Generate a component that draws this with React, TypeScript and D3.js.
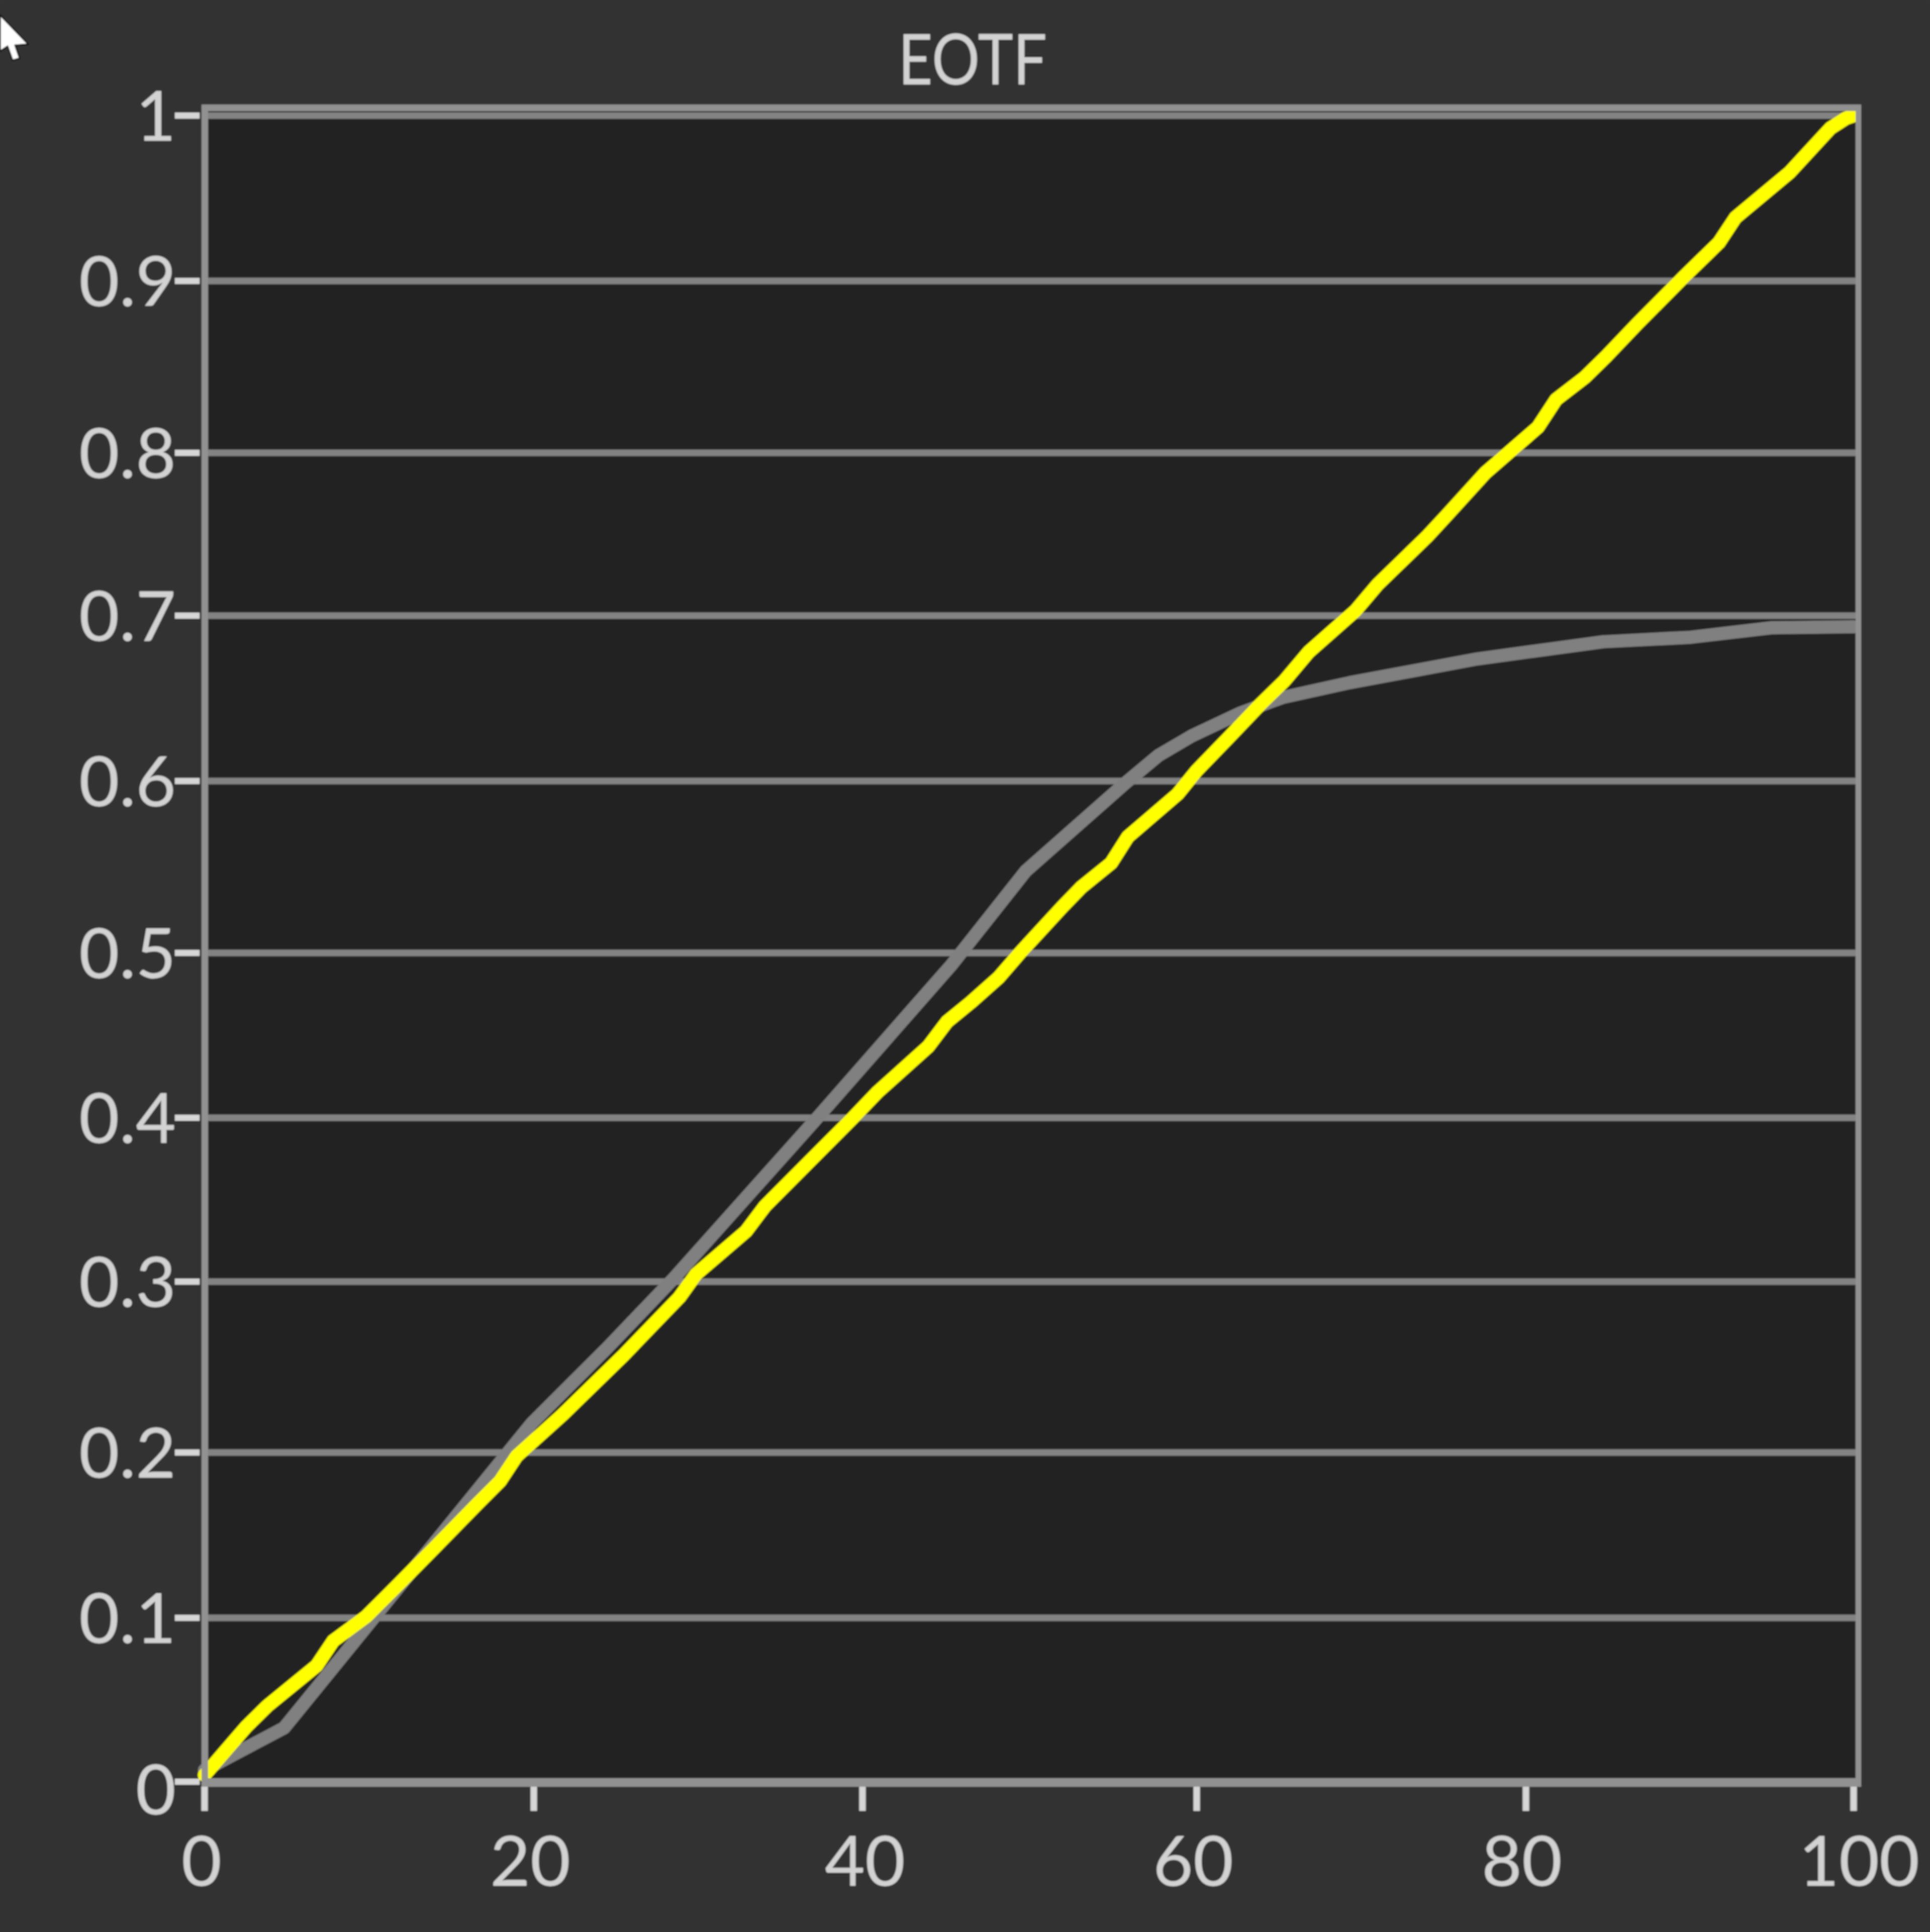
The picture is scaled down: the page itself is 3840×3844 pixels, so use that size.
import React from "react";
import * as d3 from "d3";

const chartTitle = "EOTF";
const xTicks = [0, 20, 40, 60, 80, 100];
const yTicks = [0, 0.1, 0.2, 0.3, 0.4, 0.5, 0.6, 0.7, 0.8, 0.9, 1];
const xTickLabels = ["0", "20", "40", "60", "80", "100"];
const yTickLabels = ["0", "0.1", "0.2", "0.3", "0.4", "0.5", "0.6", "0.7", "0.8", "0.9", "1"];

const yellowX = [0, 2.53, 3.81, 6.8, 7.8, 9.81, 11.83, 13.99, 16.52, 17.92, 18.93, 21.7, 25.36, 28.8, 29.81, 32.83, 33.98, 39.32, 40.84, 43.89, 45.02, 46.48, 48.16, 49.47, 52, 53.15, 54.98, 55.99, 59.01, 60.17, 62.18, 64.04, 65.47, 66.96, 69.8, 71.14, 74.15, 75.31, 77.66, 80.86, 81.96, 83.69, 85.03, 86.86, 89.73, 91.83, 92.84, 96.12, 98.6, 99.55, 100];
const yellowY = [0.004, 0.033, 0.0455, 0.0697, 0.0845, 0.0992, 0.1192, 0.1409, 0.1665, 0.1804, 0.1955, 0.2202, 0.2555, 0.2908, 0.3047, 0.3303, 0.3454, 0.3985, 0.4142, 0.4413, 0.4561, 0.4679, 0.4827, 0.4977, 0.5249, 0.5367, 0.5514, 0.5671, 0.5928, 0.6069, 0.6275, 0.6468, 0.6606, 0.6781, 0.7029, 0.7186, 0.7475, 0.7599, 0.7855, 0.813, 0.8296, 0.8428, 0.8558, 0.8748, 0.9035, 0.9237, 0.9388, 0.9659, 0.9925, 0.9985, 1];

const grayX = [0, 4.82, 10.48, 19.84, 24.47, 28.47, 37, 42.85, 45.29, 49.8, 55.84, 57.85, 59.83, 62.85, 65.35, 69.46, 77.17, 84.82, 90.13, 95.03, 100];
const grayY = [0.007, 0.0323, 0.1011, 0.2151, 0.2609, 0.3023, 0.3967, 0.4627, 0.4902, 0.5466, 0.5994, 0.616, 0.6275, 0.6416, 0.6507, 0.6597, 0.6739, 0.6842, 0.6869, 0.6926, 0.6932];

// The source was a low-resolution screenshot, so its ticks sit on an uneven pixel grid.
const xTickPx = [407, 1062, 1716, 2381, 3036, 3688];
const yTickPx = [3545, 3219, 2890, 2550, 2224, 1896, 1554, 1225, 901, 559, 230];
const xLabelPx = [401, 1055, 1721, 2374, 3028, 3699];
const yLabelPx = [3560, 3219, 2890, 2550, 2224, 1896, 1554, 1225, 901, 559, 230];

const WIDTH = 3840;
const HEIGHT = 3844;
const frame = { left: 401, right: 3703, top: 208, bottom: 3555, lw: 13, rw: 11, tw: 13, bw: 17 };

const xScale = d3.scaleLinear().domain([0, 100]).range([407, 3688]);
const yScale = d3.scaleLinear().domain([0, 1]).range([3545, 230]);
const xTickScale = d3.scaleLinear().domain(xTicks).range(xTickPx);
const yTickScale = d3.scaleLinear().domain(yTicks).range(yTickPx);
const xLabelScale = d3.scaleLinear().domain(xTicks).range(xLabelPx);
const yLabelScale = d3.scaleLinear().domain(yTicks).range(yLabelPx);

const lineGen = d3.line<[number, number]>().x((d) => xScale(d[0])).y((d) => yScale(d[1]));
const zip = (xs: number[], ys: number[]) => xs.map((x, i) => [x, ys[i]] as [number, number]);

const FONT = "Lato, 'Open Sans', sans-serif";
const TEXT = "#d2d2d2";
const FRAME = "#919191";
const GRID = "#838383";

export default function App() {
  return (
    <svg
      width={WIDTH}
      height={HEIGHT}
      viewBox={`0 0 ${WIDTH} ${HEIGHT}`}
      style={{ position: "absolute", left: 0, top: 0, display: "block" }}
    >
      <defs>
        <clipPath id="plotClip">
          <rect x={380} y={frame.top} width={frame.right - frame.rw - 380} height={frame.bottom - frame.top} />
        </clipPath>
        <filter id="soft" x="0" y="0" width="100%" height="100%" filterUnits="objectBoundingBox">
          <feGaussianBlur stdDeviation="1.6" />
        </filter>
      </defs>
      <rect x={0} y={0} width={WIDTH} height={HEIGHT} fill="#333333" />
      <g filter="url(#soft)">
        <rect x={0} y={0} width={WIDTH} height={HEIGHT} fill="#333333" />
        <rect x={frame.left} y={frame.top} width={frame.right - frame.left} height={frame.bottom - frame.top} fill="#222222" />

        {yTicks.map((t) => (
          <rect key={t} x={frame.left} y={yTickScale(t) - 6.5} width={frame.right - frame.left} height={13} fill={GRID} />
        ))}

        <g clipPath="url(#plotClip)" fill="none" strokeLinejoin="round" strokeLinecap="round">
          <path d={lineGen(zip(grayX, grayY)) ?? ""} stroke="#808080" strokeWidth={26} />
          <path d={lineGen(zip(yellowX, yellowY)) ?? ""} stroke="#ffff00" strokeWidth={27} />
        </g>

        <g fill={FRAME}>
          <rect x={frame.left} y={frame.top} width={frame.right - frame.left} height={frame.tw} />
          <rect x={frame.left} y={frame.bottom - frame.bw} width={frame.right - frame.left} height={frame.bw} />
          <rect x={frame.left} y={frame.top} width={frame.lw} height={frame.bottom - frame.top} />
          <rect x={frame.right - frame.rw} y={frame.top} width={frame.rw} height={frame.bottom - frame.top} />
        </g>

        {yTicks.map((t) => (
          <rect key={t} x={348} y={yTickScale(t) - 6} width={49} height={12} fill="#d6d6d6" />
        ))}
        {xTicks.map((t) => (
          <rect key={t} x={xTickScale(t) - 6.5} y={frame.bottom} width={13} height={48} fill="#d6d6d6" />
        ))}

        <g fontFamily={FONT} fontSize={138} fill={TEXT}>
          {yTicks.map((t, i) => (
            <text key={t} x={350} y={yLabelScale(t) + 50} textAnchor="end">
              {yTickLabels[i]}
            </text>
          ))}
          {xTicks.map((t, i) => (
            <text key={t} x={xLabelScale(t)} y={3752} textAnchor="middle">
              {xTickLabels[i]}
            </text>
          ))}
          <text x={1787} y={168} fontSize={140} textLength={296} lengthAdjust="spacingAndGlyphs">
            {chartTitle}
          </text>
        </g>

        <path
          d="M0 30 L56 88 L30 90 L39 116 L25 120 L15 92 L0 102 Z"
          fill="#ffffff"
          stroke="#111111"
          strokeWidth={3}
          strokeLinejoin="round"
        />
      </g>
    </svg>
  );
}
